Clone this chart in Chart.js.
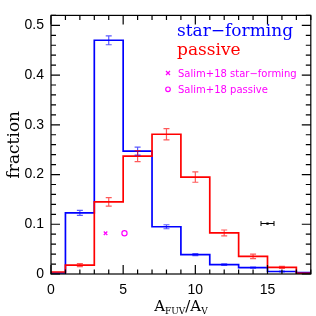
<!DOCTYPE html>
<html>
<head>
<meta charset="utf-8">
<script src="https://cdn.jsdelivr.net/npm/chart.js@4.4.1/dist/chart.umd.min.js"></script>
<style>
  html, body { margin: 0; padding: 0; background: #fff; }
  #wrap { width: 316px; height: 316px; }
</style>
</head>
<body>
<div id="wrap"><canvas id="c" width="316" height="316"></canvas></div>
<script>
// ---- data ----
const binEdges   = [-1, 1, 3, 5, 7, 9, 11, 13, 15, 17, 19];
const binCenters = [0, 2, 4, 6, 8, 10, 12, 14, 16, 18];
const sfFrac  = [0.002, 0.123, 0.470, 0.247, 0.095, 0.039, 0.019, 0.013, 0.005, 0.003];
const sfErr   = [0, 0.005, 0.009, 0.008, 0.004, 0.002, 0.0015, 0.001, 0.001, 0];
const pasFrac = [0.004, 0.018, 0.145, 0.237, 0.281, 0.195, 0.0825, 0.0355, 0.0135, 0.0015];
const pasErr  = [0, 0.003, 0.0086, 0.011, 0.0114, 0.0105, 0.006, 0.0045, 0.002, 0];
const salimSF  = [{x: 3.78, y: 0.082}];
const salimPas = [{x: 5.09, y: 0.082}];
const typPoint = [{x: 15.0, y: 0.1015}];
const typXErr  = [0.45];
const xTicks = [0, 5, 10, 15];
const yTicks = [0, 0.1, 0.2, 0.3, 0.4, 0.5];
const xRange = [0, 18];
const yRange = [0, 0.52];

function stepPoints(vals) {
  return binEdges.map((e, i) => ({x: e, y: vals[Math.min(i, vals.length - 1)]}));
}

const BLUE = '#0000ff', RED = '#ff0000', MAG = '#ff00ff';

const decor = {
  id: 'decor',
  afterDatasetsDraw(chart) {
    const ctx = chart.ctx, a = chart.chartArea;
    const xs = chart.scales.x, ys = chart.scales.y;
    ctx.save();
    // error bars
    function vErr(vals, errs, col) {
      ctx.strokeStyle = col; ctx.lineWidth = 1.2;
      binCenters.forEach((c, i) => {
        if (!errs[i]) return;
        const px = xs.getPixelForValue(c);
        const y1 = ys.getPixelForValue(vals[i] + errs[i]);
        const y2 = ys.getPixelForValue(vals[i] - errs[i]);
        if (px < a.left || px > a.right) return;
        ctx.beginPath();
        ctx.moveTo(px, y1); ctx.lineTo(px, y2);
        ctx.moveTo(px - 3, y1); ctx.lineTo(px + 3, y1);
        ctx.moveTo(px - 3, y2); ctx.lineTo(px + 3, y2);
        ctx.stroke();
      });
    }
    vErr(sfFrac, sfErr, 'rgba(0,0,255,0.65)');
    vErr(pasFrac, pasErr, 'rgba(255,0,0,0.65)');
    // horizontal error of typical point
    ctx.strokeStyle = '#000'; ctx.lineWidth = 1;
    typPoint.forEach((p, i) => {
      const x1 = xs.getPixelForValue(p.x - typXErr[i]);
      const x2 = xs.getPixelForValue(p.x + typXErr[i]);
      const py = ys.getPixelForValue(p.y);
      ctx.beginPath();
      ctx.moveTo(x1, py); ctx.lineTo(x2, py);
      ctx.moveTo(x1, py - 2.5); ctx.lineTo(x1, py + 2.5);
      ctx.moveTo(x2, py - 2.5); ctx.lineTo(x2, py + 2.5);
      ctx.stroke();
    });
    // frame
    ctx.strokeStyle = '#000'; ctx.lineWidth = 1.2;
    ctx.strokeRect(a.left, a.top, a.right - a.left, a.bottom - a.top);
    // inward ticks
    ctx.beginPath();
    for (let v = xRange[0]; v <= xRange[1]; v++) {
      const px = xs.getPixelForValue(v);
      const L = (v % 5 === 0) ? 9 : 4.5;
      ctx.moveTo(px, a.bottom); ctx.lineTo(px, a.bottom - L);
      ctx.moveTo(px, a.top); ctx.lineTo(px, a.top + L);
    }
    for (let k = 0; k * 0.02 <= yRange[1] + 1e-9; k++) {
      const py = ys.getPixelForValue(k * 0.02);
      const L = (k % 5 === 0) ? 9 : 5;
      ctx.moveTo(a.left, py); ctx.lineTo(a.left + L, py);
      ctx.moveTo(a.right, py); ctx.lineTo(a.right - L, py);
    }
    ctx.stroke();

    // legend texts
    ctx.textBaseline = 'alphabetic'; ctx.textAlign = 'left';
    ctx.font = '17px "DejaVu Serif"';
    ctx.fillStyle = BLUE; ctx.fillText('star\u2212forming', 177, 35.5);
    ctx.fillStyle = RED;  ctx.fillText('passive', 177, 55);
    ctx.font = '10px "DejaVu Sans"';
    ctx.fillStyle = MAG;
    ctx.fillText('Salim+18 star\u2212forming', 178, 76.5);
    ctx.fillText('Salim+18 passive', 178, 92.5);
    // legend symbols
    ctx.strokeStyle = MAG; ctx.lineWidth = 1.2;
    ctx.beginPath();
    ctx.moveTo(166, 71); ctx.lineTo(170, 75);
    ctx.moveTo(170, 71); ctx.lineTo(166, 75);
    ctx.stroke();
    ctx.beginPath(); ctx.arc(168, 89.3, 2.3, 0, Math.PI * 2); ctx.stroke();

    // axis titles
    ctx.fillStyle = '#000';
    ctx.save();
    ctx.translate(19, (a.top + a.bottom) / 2);
    ctx.rotate(-Math.PI / 2);
    ctx.textAlign = 'center';
    ctx.font = '17px "DejaVu Serif"';
    ctx.fillText('fraction', 0, 0);
    ctx.restore();

    // x title with subscripts
    const parts = [
      {t: 'A', f: '15px "DejaVu Serif"', dy: 0},
      {t: 'FUV', f: '9px "DejaVu Serif"', dy: 3},
      {t: '/', f: '15px "DejaVu Serif"', dy: 0},
      {t: 'A', f: '15px "DejaVu Serif"', dy: 0},
      {t: 'V', f: '9px "DejaVu Serif"', dy: 3}
    ];
    let w = 0;
    parts.forEach(p => { ctx.font = p.f; p.w = ctx.measureText(p.t).width; w += p.w; });
    let x = (a.left + a.right) / 2 - w / 2;
    ctx.textAlign = 'left';
    parts.forEach(p => { ctx.font = p.f; ctx.fillText(p.t, x, 311 + p.dy); x += p.w; });
    ctx.restore();
  }
};

new Chart(document.getElementById('c'), {
  type: 'scatter',
  data: {
    datasets: [
      {type: 'line', data: stepPoints(pasFrac), borderColor: RED, borderWidth: 1.7,
       stepped: true, pointRadius: 0, fill: false},
      {type: 'line', data: stepPoints(sfFrac), borderColor: BLUE, borderWidth: 1.7,
       stepped: true, pointRadius: 0, fill: false},
      {data: salimSF, pointStyle: 'crossRot', pointRadius: 2.5, borderColor: MAG,
       backgroundColor: MAG, borderWidth: 1.2},
      {data: salimPas, pointStyle: 'circle', pointRadius: 2.6, borderColor: MAG,
       backgroundColor: 'rgba(0,0,0,0)', borderWidth: 1.2},
      {data: typPoint, pointStyle: 'rect', pointRadius: 1.6, borderColor: '#000',
       backgroundColor: '#000', borderWidth: 0}
    ]
  },
  options: {
    responsive: false,
    animation: false,
    events: [],
    layout: {padding: {top: 1, right: 2.5, left: 0, bottom: 0}},
    plugins: {legend: {display: false}, tooltip: {enabled: false}},
    scales: {
      x: {
        type: 'linear', min: xRange[0], max: xRange[1],
        grid: {display: false, drawTicks: false},
        border: {display: false},
        afterFit(s) { s.height = 42; },
        afterBuildTicks(s) { s.ticks = xTicks.map(v => ({value: v})); },
        ticks: {font: {family: 'Liberation Sans', size: 14}, color: '#000', padding: 8, maxRotation: 0}
      },
      y: {
        type: 'linear', min: yRange[0], max: yRange[1],
        grid: {display: false, drawTicks: false},
        border: {display: false},
        afterFit(s) { s.width = 51; },
        afterBuildTicks(s) { s.ticks = yTicks.map(v => ({value: v})); },
        ticks: {font: {family: 'Liberation Sans', size: 14}, color: '#000', padding: 7,
                callback: v => String(v)}
      }
    }
  },
  plugins: [decor]
});
</script>
</body>
</html>
